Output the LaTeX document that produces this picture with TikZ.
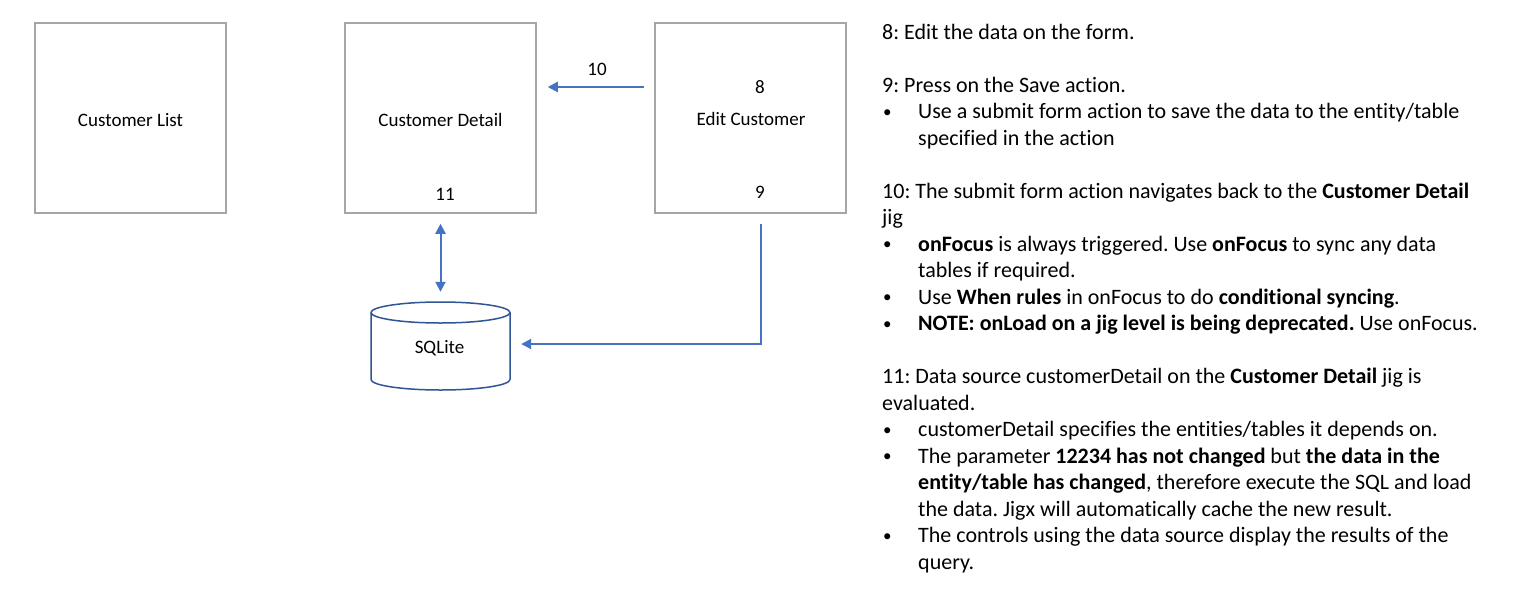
\documentclass[tikz,border=0pt]{standalone}
\usepackage{fontspec}
\setmainfont{Carlito}[Ligatures=NoCommon]
\frenchspacing
\usetikzlibrary{arrows.meta}
\definecolor{boxgray}{HTML}{A6A6A6}
\definecolor{arrblue}{HTML}{4472C4}
\definecolor{dbblue}{HTML}{2F5597}
\begin{document}
\begin{tikzpicture}[x=1pt,y=-1pt,
  screen/.style={draw=boxgray, line width=1.5pt, minimum width=191pt, minimum height=190pt, inner sep=0pt},
  lbl/.style={anchor=base, inner sep=0pt, font=\fontsize{19}{23}\selectfont},
  txt/.style={anchor=base west, inner sep=0pt, font=\fontsize{22}{26}\selectfont},
  bul/.style={anchor=base west, inner sep=0pt, yshift=1.5pt, font=\fontsize{17}{20}\selectfont},
  arr/.style={draw=arrblue, line width=2pt, -{Triangle[length=10pt,width=10pt]}},
  darr/.style={draw=arrblue, line width=2pt, {Triangle[length=10pt,width=10pt]}-{Triangle[length=10pt,width=10pt]}}
]
\useasboundingbox (0,0) rectangle (1520,608);
\fill[white] (0,0) rectangle (1520,608);

% screens
\node[screen] (cl) at (130.5,118) {};
\node[screen] (cd) at (440.5,118) {};
\node[screen] (ec) at (750.5,118) {};

\node[lbl] (cllbl) at (130.5,126) {Customer List};
\node[lbl] (cdlbl) at (440.5,126) {Customer Detail};
\node[lbl] (n11) at (445,200) {11};
\node[lbl] (eclbl) at (751,125) {Edit Customer};
\node[lbl] (n8) at (760,93) {8};
\node[lbl] (n9) at (760,198) {9};
\node[lbl] (n10) at (597,75) {10};

% database
\node[minimum width=139pt, minimum height=88pt, inner sep=0pt] (db) at (440.5,346) {};
\draw[dbblue, line width=1.5pt, fill=white]
  (371,312.5) -- (371,379.5) arc[start angle=180, end angle=0, x radius=69.5, y radius=10.5]
  -- (510,312.5) arc[start angle=0, end angle=-180, x radius=69.5, y radius=10.5] -- cycle;
\draw[dbblue, line width=1.5pt] (371,312.5) arc[start angle=180, end angle=0, x radius=69.5, y radius=10.5];
\node[lbl] (dblbl) at (439.5,353) {SQLite};

% connectors
\coordinate (a10) at (0,87);
\coordinate (a9) at (761,344);
\draw[arr, shorten <=10pt, shorten >=11pt] (ec.west |- a10) -- (cd.east |- a10);
\draw[darr, shorten <=10pt, shorten >=10pt] (cd.south) -- (db.north);
\draw[arr, shorten <=10pt, shorten >=11pt] (ec.south -| a9) -- (a9) -- (db.east |- a9);

% notes
\node[txt] (t0) at (882,39) {8: Edit the data on the form.};
\node[txt] (t2) at (882,92) {9: Press on the Save action.};
\node[bul] (b3) at (883,118.5) {•};
\node[txt] (t3) at (918,118.5) {Use a submit form action to save the data to the entity/table};
\node[txt] (t4) at (918,145) {specified in the action};
\node[txt] (t6) at (882,198) {10: The submit form action navigates back to the \textbf{Customer Detail}};
\node[txt] (t7) at (882,224.5) {jig};
\node[bul] (b8) at (883,251) {•};
\node[txt] (t8) at (918,251) {\textbf{onFocus} is always triggered. Use \textbf{onFocus} to sync any data};
\node[txt] (t9) at (918,277.5) {tables if required.};
\node[bul] (b10) at (883,304) {•};
\node[txt] (t10) at (918,304) {Use \textbf{When rules} in onFocus to do \textbf{conditional syncing}.};
\node[bul] (b11) at (883,330.5) {•};
\node[txt] (t11) at (918,330.5) {\textbf{NOTE: onLoad on a jig level is being deprecated.} Use onFocus.};
\node[txt] (t13) at (882,383.5) {11: Data source customerDetail on the \textbf{Customer Detail} jig is};
\node[txt] (t14) at (882,410) {evaluated.};
\node[bul] (b15) at (883,436.5) {•};
\node[txt] (t15) at (918,436.5) {customerDetail specifies the entities/tables it depends on.};
\node[bul] (b16) at (883,463) {•};
\node[txt] (t16) at (918,463) {The parameter \textbf{12234 has not changed} but \textbf{the data in the}};
\node[txt] (t17) at (918,489.5) {\textbf{entity/table has changed}, therefore execute the SQL and load};
\node[txt] (t18) at (918,516) {the data. Jigx will automatically cache the new result.};
\node[bul] (b19) at (883,542.5) {•};
\node[txt] (t19) at (918,542.5) {The controls using the data source display the results of the};
\node[txt] (t20) at (918,569) {query.};
\end{tikzpicture}
\end{document}
